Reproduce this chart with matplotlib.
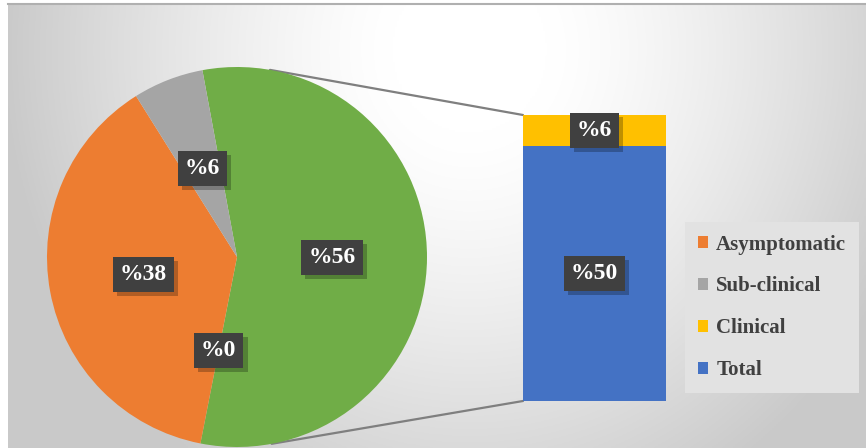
import numpy as np
import matplotlib.pyplot as plt
import matplotlib.patheffects as pe
from matplotlib.patches import Patch, ConnectionPatch

# pie part (values in %), "Other" slice is expanded into the bar
pie_names = ['Other', 'Zero', 'Asymptomatic', 'Sub-clinical']
pie_values = [56, 0, 38, 6]
pie_colors = ['#70AD47', '#70AD47', '#ED7D31', '#A5A5A5']

# bar part (stacked, bottom to top)
bar_names = ['Total', 'Clinical']
bar_values = [50, 6]
bar_colors = ['#4472C4', '#FFC000']

legend_names = ['Asymptomatic', 'Sub-clinical', 'Clinical', 'Total']
legend_colors = ['#ED7D31', '#A5A5A5', '#FFC000', '#4472C4']

W, H = 866, 448
fig = plt.figure(figsize=(W / 100, H / 100), dpi=100)
fig.patch.set_facecolor('white')

FONT = dict(family='Liberation Serif', weight='bold')


def frac(x0, y0, x1, y1):
    # pixel box (image coords) -> figure fraction rect
    return [x0 / W, (H - y1) / H, (x1 - x0) / W, (y1 - y0) / H]


# background gradient
bg = fig.add_axes(frac(8, 5, W, H), zorder=0)
xx, yy = np.meshgrid(np.linspace(8, W, 400), np.linspace(5, H, 220))
d = np.sqrt(((xx - 470) / 520) ** 2 + ((yy - 50) / 560) ** 2)
t = np.clip((d - 0.15) / 0.75, 0, 1)
val = 1 - 0.21 * t ** 1.3
bg.imshow(np.dstack([val, val, val]), aspect='auto', extent=[0, 1, 0, 1])
bg.set_axis_off()
fig.add_artist(plt.Line2D([8 / W, 1], [1 - 4.5 / H, 1 - 4.5 / H], color='#b0b0b0', lw=1.5))


def label(ax, x, y, s):
    txt = ax.text(x, y, s, ha='center', va='center', fontsize=17, color='white',
                  bbox=dict(boxstyle='square,pad=0.3', facecolor='#404040', edgecolor='none'),
                  zorder=5, **FONT)
    txt.get_bbox_patch().set_path_effects(
        [pe.SimplePatchShadow(offset=(3, -3), shadow_rgbFace='k', alpha=0.25), pe.Normal()])


# pie
ax_pie = fig.add_axes(frac(47, 67, 427, 447), zorder=2)
wedges, _ = ax_pie.pie(pie_values, colors=pie_colors, startangle=100.5,
                       counterclock=False, radius=1,
                       wedgeprops=dict(linewidth=0))
ax_pie.set_xlim(-1, 1)
ax_pie.set_ylim(-1, 1)
ax_pie.set_aspect('equal')
ax_pie.set_axis_off()
for w, v in zip(wedges, pie_values):
    ang = np.deg2rad((w.theta1 + w.theta2) / 2)
    label(ax_pie, 0.5 * np.cos(ang), 0.5 * np.sin(ang), '%' + str(v))

# bar
ax_bar = fig.add_axes(frac(523, 115, 666, 401), zorder=2)
bottom = 0
for name, v, c in zip(bar_names, bar_values, bar_colors):
    ax_bar.bar(0, v, width=1, bottom=bottom, color=c, linewidth=0)
    label(ax_bar, 0, bottom + v / 2, '%' + str(v))
    bottom += v
ax_bar.set_xlim(-0.5, 0.5)
ax_bar.set_ylim(0, sum(bar_values))
ax_bar.set_axis_off()

# connector lines pie -> bar
for ang, ytop in [(80, sum(bar_values)), (-79.5, 0)]:
    a = np.deg2rad(ang)
    con = ConnectionPatch(xyA=(np.cos(a), np.sin(a)), coordsA=ax_pie.transData,
                          xyB=(-0.5, ytop), coordsB=ax_bar.transData,
                          color='#7f7f7f', lw=1.6, zorder=1)
    fig.add_artist(con)

# legend
handles = [Patch(facecolor=c, edgecolor='none') for c in legend_colors]
leg = fig.legend(handles, legend_names, loc='upper left',
                 bbox_to_anchor=(685 / W, 1 - 222 / H), borderaxespad=0,
                 frameon=True, fancybox=False, facecolor='#e2e2e2', edgecolor='none',
                 framealpha=1, handlelength=0.5, handleheight=0.5, handletextpad=0.4,
                 labelspacing=1.05, borderpad=0.6,
                 prop=dict(family='Liberation Serif', weight='bold', size=15))
for txt in leg.get_texts():
    txt.set_color('#404040')

fig.savefig('out.png', dpi=100)
